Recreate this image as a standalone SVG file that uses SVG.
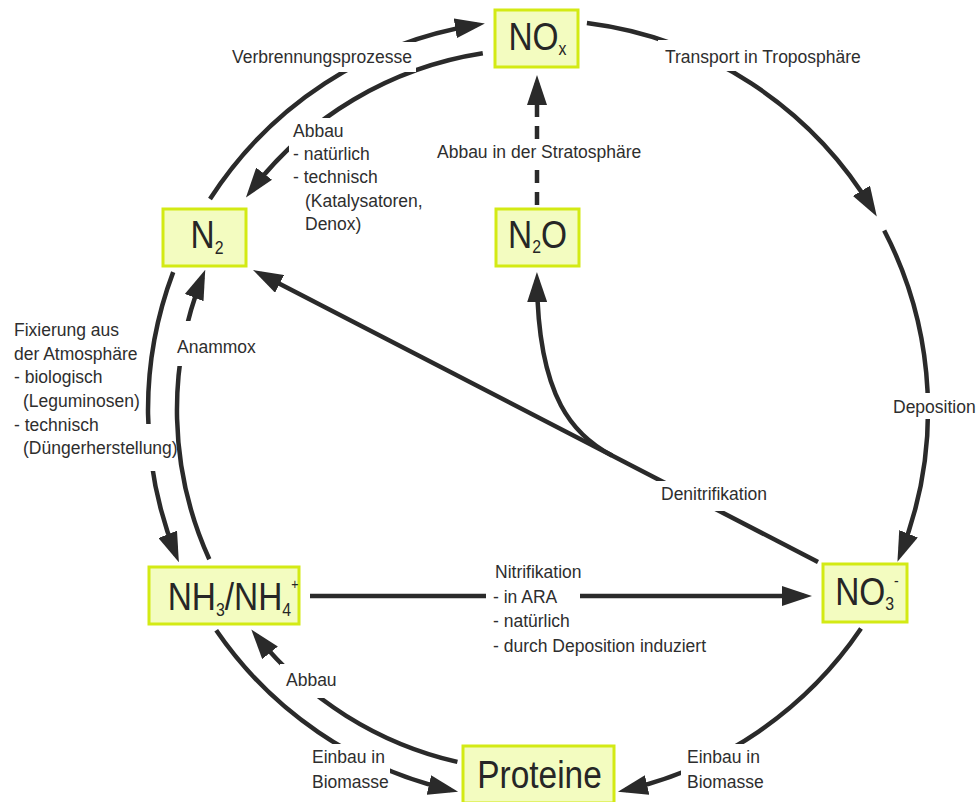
<svg xmlns="http://www.w3.org/2000/svg" width="978" height="802" viewBox="0 0 978 802">
<style>
.box{fill:#f3fcc0;stroke:#d3ea14;stroke-width:3}
.nt{font-family:"Liberation Sans",Arial,sans-serif;font-size:38px;fill:#262626;text-anchor:middle}
.lb{font-family:"Liberation Sans",Arial,sans-serif;font-size:17.5px;fill:#2e2e2e}
.c{fill:none;stroke:#2a2a2a;stroke-width:4.5}
.bg{fill:#ffffff}
</style>
<defs>
<marker id="ah" markerUnits="userSpaceOnUse" viewBox="0 0 30 20" markerWidth="30" markerHeight="20" refX="22" refY="10" orient="auto">
<polygon points="0,0 30,10 0,20" fill="#2a2a2a"/>
</marker>
</defs>
<rect width="978" height="802" fill="#ffffff"/>
<g id="connectors">
<path class="c" d="M210,199 A390,390 0 0 1 477,24.8" marker-end="url(#ah)"/>
<path class="c" d="M482.8,53.3 A361,361 0 0 0 250.8,191.2" marker-end="url(#ah)"/>
<path class="c" d="M209.3,559.3 A361,361 0 0 1 202.3,277.1" marker-end="url(#ah)"/>
<path class="c" d="M173.2,272.1 A390,390 0 0 0 175.9,554.8" marker-end="url(#ah)"/>
<path class="c" d="M457.4,761.9 A361,361 0 0 1 256.3,635.7" marker-end="url(#ah)"/>
<path class="c" d="M216.2,630.3 A390,390 0 0 0 450.3,790" marker-end="url(#ah)"/>
<path class="c" d="M861,628.6 A390,390 0 0 1 625.7,790" marker-end="url(#ah)"/>
<path class="c" d="M586.9,23.1 A390,390 0 0 1 872.7,209.7" marker-end="url(#ah)"/>
<path class="c" d="M884.2,230.5 A390,390 0 0 1 900.4,554.2" marker-end="url(#ah)"/>
<path class="c" d="M310,596 L804,596" marker-end="url(#ah)"/>
<path class="c" d="M818,562 L260.1,273.7" marker-end="url(#ah)"/>
<path class="c" d="M612,455.5 C575,436 538,400 537,280" marker-end="url(#ah)"/>
<path class="c" d="M537,205 L537,83" stroke-dasharray="13 9" marker-end="url(#ah)"/>
</g>
<g id="label-backgrounds">
<rect class="bg" x="226" y="42" width="190" height="30"/>
<rect class="bg" x="289" y="118" width="92" height="120"/>
<rect class="bg" x="432" y="140" width="210" height="28"/>
<rect class="bg" x="658" y="40" width="210" height="31"/>
<rect class="bg" x="888" y="393" width="90" height="26"/>
<rect class="bg" x="172" y="321" width="86" height="45"/>
<rect class="bg" x="18" y="424" width="157" height="47"/>
<rect class="bg" x="655" y="481" width="116" height="30"/>
<rect class="bg" x="486" y="584" width="94" height="24"/>
<rect class="bg" x="280" y="664" width="58" height="34"/>
<rect class="bg" x="306" y="744" width="84" height="58"/>
<rect class="bg" x="681" y="744" width="96" height="58"/>
</g>
<g id="labels">
<text class="lb" x="232" y="63">Verbrennungsprozesse</text>
<text class="lb"><tspan x="293" y="137">Abbau</tspan><tspan x="293" y="160">- natürlich</tspan><tspan x="293" y="183">- technisch</tspan><tspan x="305" y="207">(Katalysatoren,</tspan><tspan x="305" y="230">Denox)</tspan></text>
<text class="lb" x="437" y="158">Abbau in der Stratosphäre</text>
<text class="lb" x="665" y="63">Transport in Troposphäre</text>
<text class="lb" x="893" y="413">Deposition</text>
<text class="lb" x="177" y="353">Anammox</text>
<text class="lb"><tspan x="14" y="336">Fixierung aus</tspan><tspan x="14" y="360">der Atmosphäre</tspan><tspan x="14" y="383">- biologisch</tspan><tspan x="23" y="407">(Leguminosen)</tspan><tspan x="14" y="431">- technisch</tspan><tspan x="23" y="454">(Düngerherstellung)</tspan></text>
<text class="lb" x="661" y="500">Denitrifikation</text>
<text class="lb"><tspan x="495" y="578">Nitrifikation</tspan><tspan x="493" y="603">- in ARA</tspan><tspan x="493" y="627">- natürlich</tspan><tspan x="493" y="652">- durch Deposition induziert</tspan></text>
<text class="lb" x="286" y="686">Abbau</text>
<text class="lb"><tspan x="312" y="763">Einbau in</tspan><tspan x="312" y="788">Biomasse</tspan></text>
<text class="lb"><tspan x="687" y="763">Einbau in</tspan><tspan x="687" y="788">Biomasse</tspan></text>
</g>
<g id="node-NOx">
<rect class="box" x="495" y="10" width="83" height="57"/>
<text class="nt" transform="translate(537.5,50) scale(0.88,1)">NO<tspan font-size="18" dy="5">x</tspan></text>
</g>
<g id="node-N2">
<rect class="box" x="163" y="209" width="83" height="57"/>
<text class="nt" transform="translate(207,248) scale(0.88,1)">N<tspan font-size="18" dy="6">2</tspan></text>
</g>
<g id="node-N2O">
<rect class="box" x="496" y="209" width="83" height="57"/>
<text class="nt" transform="translate(537.5,248) scale(0.88,1)">N<tspan font-size="18" dy="5">2</tspan><tspan dy="-5">O</tspan></text>
</g>
<g id="node-NH3">
<rect class="box" x="149" y="567" width="150" height="57"/>
<text class="nt" transform="translate(233,610) scale(0.88,1)">NH<tspan font-size="18" dy="6">3</tspan><tspan dy="-6">/NH</tspan><tspan font-size="18" dy="6">4</tspan><tspan font-size="14" dy="-27">+</tspan></text>
</g>
<g id="node-NO3">
<rect class="box" x="823" y="564" width="84" height="58"/>
<text class="nt" transform="translate(867,605) scale(0.88,1)">NO<tspan font-size="18" dy="5">3</tspan><tspan font-size="16" dy="-24">-</tspan></text>
</g>
<g id="node-Proteine">
<rect class="box" x="463" y="746" width="151" height="57"/>
<text class="nt" transform="translate(539.5,788) scale(0.88,1)">Proteine</text>
</g>
</svg>
